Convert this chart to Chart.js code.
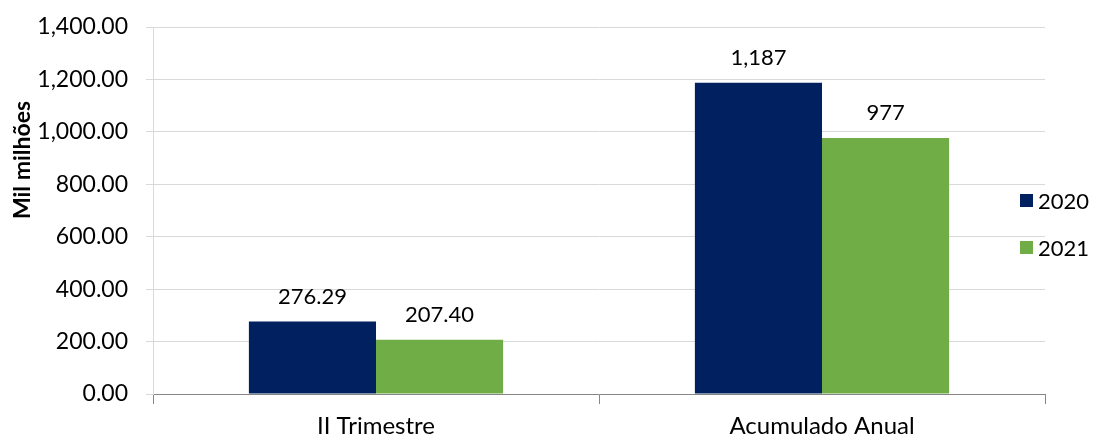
<!DOCTYPE html>
<html>
<head>
<meta charset="utf-8">
<script src="https://cdn.jsdelivr.net/npm/chart.js@4/dist/chart.umd.min.js"></script>
<style>
  html, body { margin: 0; padding: 0; background: #fff; }
  #wrap { position: relative; width: 1099px; height: 438px; }
  #legend { position: absolute; left: 1020px; top: 185px; font-family: Lato, "Noto Sans", sans-serif; font-size: 22px; color: #000; }
  #legend div { display: flex; align-items: center; height: 30px; margin-bottom: 17px; }
  #legend span.box { width: 13px; height: 13px; margin-right: 5px; display: inline-block; }
</style>
</head>
<body>
<div id="wrap">
  <canvas id="chart" width="1099" height="438"></canvas>
  <div id="legend"></div>
</div>
<script>
// ─── DATA ───
const categories = ['II Trimestre', 'Acumulado Anual'];
const seriesNames = ['2020', '2021'];
const values2020 = [276.29, 1187];
const values2021 = [207.40, 977];
const labels2020 = ['276.29', '1,187'];
const labels2021 = ['207.40', '977'];
const colors = ['#002060', '#70AD47'];
const yTitle = 'Mil milhões';

const FONT = 'Lato, "Noto Sans", sans-serif';

// ─── LEGEND (html, sits inside the plot edge like the original) ───
const legendEl = document.getElementById('legend');
seriesNames.forEach((name, i) => {
  const row = document.createElement('div');
  row.innerHTML = `<span class="box" style="background:${colors[i]}"></span>${name}`;
  legendEl.appendChild(row);
});

// ─── BAR VALUE LABELS + Y TITLE ───
const extras = {
  id: 'extras',
  afterDatasetsDraw(chart) {
    const ctx = chart.ctx;
    const texts = [labels2020, labels2021];
    ctx.save();
    ctx.font = '22px ' + FONT;
    ctx.fillStyle = '#000';
    ctx.textAlign = 'center';
    ctx.textBaseline = 'middle';
    chart.data.datasets.forEach((ds, di) => {
      chart.getDatasetMeta(di).data.forEach((bar, i) => {
        ctx.fillText(texts[di][i], bar.x, bar.y - 25);
      });
    });
    // axis title, sits a bit above centre as in the original
    ctx.translate(23, 160);
    ctx.rotate(-Math.PI / 2);
    ctx.font = 'bold 23px ' + FONT;
    ctx.fillText(yTitle, 0, 0);
    ctx.restore();
  }
};

new Chart(document.getElementById('chart'), {
  type: 'bar',
  data: {
    labels: categories,
    datasets: [
      { label: seriesNames[0], data: values2020, backgroundColor: colors[0] },
      { label: seriesNames[1], data: values2021, backgroundColor: colors[1] }
    ]
  },
  options: {
    responsive: false,
    animation: false,
    layout: { padding: { top: 27, right: 54, left: 0, bottom: 0 } },
    datasets: { bar: { barPercentage: 1, categoryPercentage: 0.57 } },
    plugins: {
      legend: { display: false },
      tooltip: { enabled: false }
    },
    scales: {
      x: {
        grid: { drawOnChartArea: false, drawTicks: true, tickLength: 10, color: '#868686' },
        border: { color: '#868686' },
        ticks: { color: '#000', font: { family: FONT, size: 24 }, padding: 8 },
        afterFit: s => { s.height = 44; }
      },
      y: {
        min: 0, max: 1400,
        grid: { color: '#d9d9d9', tickLength: 7 },
        border: { color: '#d9d9d9' },
        ticks: {
          stepSize: 200,
          color: '#000',
          padding: 18,
          font: { family: FONT, size: 23 },
          callback: v => v.toLocaleString('en-US', { minimumFractionDigits: 2, maximumFractionDigits: 2 })
        },
        afterFit: s => { s.width = 153; s.paddingTop = 0; s.paddingBottom = 0; }
      }
    }
  },
  plugins: [extras]
});
</script>
</body>
</html>
